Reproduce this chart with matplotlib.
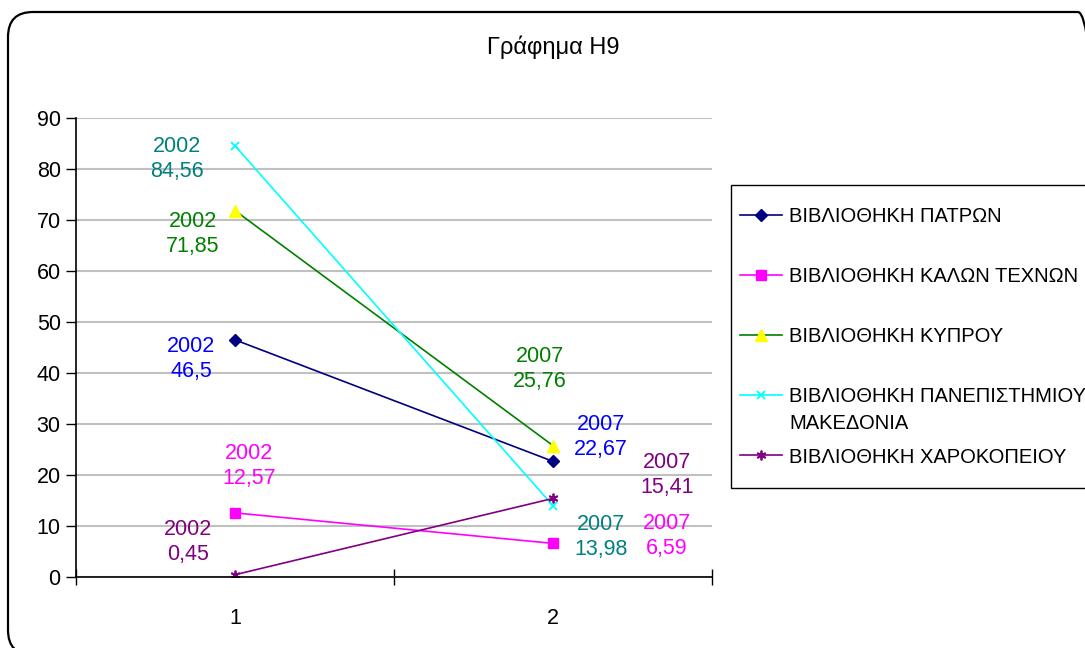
import matplotlib
matplotlib.use("Agg")
import matplotlib.pyplot as plt
from matplotlib.patches import FancyBboxPatch
from matplotlib.transforms import IdentityTransform

plt.rcParams['font.family'] = ['Liberation Sans', 'DejaVu Sans']

# --- datos ---
categorias = [1, 2]
anios = ['2002', '2007']
series = [
    'ΒΙΒΛΙΟΘΗΚΗ ΠΑΤΡΩΝ',
    'ΒΙΒΛΙΟΘΗΚΗ ΚΑΛΩΝ ΤΕΧΝΩΝ',
    'ΒΙΒΛΙΟΘΗΚΗ ΚΥΠΡΟΥ',
    'ΒΙΒΛΙΟΘΗΚΗ ΠΑΝΕΠΙΣΤΗΜΙΟΥ',
    'ΒΙΒΛΙΟΘΗΚΗ ΧΑΡΟΚΟΠΕΙΟΥ',
]
# segunda linea de la etiqueta larga (como en Excel, bajo la primera)
series_cont = ['', '', '', 'ΜΑΚΕΔΟΝΙΑ', '']
patron = [46.5, 22.67]
kalon_texnon = [12.57, 6.59]
kyprou = [71.85, 25.76]
makedonia = [84.56, 13.98]
xarokopeiou = [0.45, 15.41]
valores = [patron, kalon_texnon, kyprou, makedonia, xarokopeiou]

# --- estilo ---
estilos = [
    dict(color='#000080', marker='D', mfc='#000080', mec='#000080', ms=6.5),
    dict(color='#FF00FF', marker='s', mfc='#FF00FF', mec='#FF00FF', ms=6.5),
    dict(color='#008000', marker='^', mfc='#FFFF00', mec='#FFFF00', ms=8),
    dict(color='#00FFFF', marker='x', mfc='#00FFFF', mec='#00FFFF', ms=6, mew=1.3),
    dict(color='#800080', marker=(6, 2, 0), mfc='#800080', mec='#800080', ms=7, mew=1.3),
]
color_etiqueta = ['#0000FF', '#FF00FF', '#008000', '#008080', '#800080']
# desplazamiento de etiquetas en pixeles (2002, 2007)
offsets = [
    [(-44, -19), (48, 24)],
    [(14, 47), (114, 7)],
    [(-42, -23), (-13, 77)],
    [(-58, -13), (48, -31)],
    [(-47, 33), (114, 23)],
]

fig = plt.figure(figsize=(10.85, 6.48), dpi=100)
ax = fig.add_axes([76 / 1085, 1 - 577 / 648, (712 - 76) / 1085, (577 - 118) / 648])

for nombre, vals, st in zip(series, valores, estilos):
    ax.plot(categorias, vals, lw=1.2, label=nombre, **st)

for vals, col, offs in zip(valores, color_etiqueta, offsets):
    for x, v, anio, off in zip(categorias, vals, anios, offs):
        txt = f"{anio}\n{v:g}".replace('.', ',')
        ax.annotate(txt, (x, v), xytext=off, textcoords='offset pixels',
                    ha='center', va='center', color=col, fontsize=15.5,
                    linespacing=1.25, annotation_clip=False)

ax.set_xlim(0.5, 2.5)
ax.set_ylim(0, 90)
ax.set_yticks(range(0, 91, 10))
ax.set_xticks([0.5, 1.5, 2.5])
ax.set_xticklabels([])
ax.set_xticks(categorias, minor=True)
ax.set_xticklabels([str(c) for c in categorias], minor=True)
ax.tick_params(axis='x', which='major', direction='inout', length=12, width=1)
ax.tick_params(axis='x', which='minor', length=0, labelsize=15.5, pad=22)
ax.tick_params(axis='y', direction='out', length=7, width=1, labelsize=15.5, pad=4)
ax.grid(axis='y', color='#c0c0c0', lw=1.5)
ax.set_axisbelow(True)
for s in ['top', 'right']:
    ax.spines[s].set_visible(False)
for s in ['left', 'bottom']:
    ax.spines[s].set_linewidth(1.2)

fig.text(553 / 1085, 1 - 47 / 648, 'Γράφημα Η9', ha='center', va='center', fontsize=17)

leg = fig.legend(loc='upper left', bbox_to_anchor=(731 / 1085, 1 - 185 / 648),
                 frameon=True, fancybox=False, fontsize=14.5, labelspacing=0.79,
                 handlelength=2.1, handleheight=3.0, handletextpad=0.35,
                 borderpad=0.45, borderaxespad=0, framealpha=1.0)
leg.get_frame().set_edgecolor('black')
leg.get_frame().set_linewidth(1.0)

# bajar un poco las muestras para que queden a la altura del texto
for h in leg.legend_handles:
    h.set_ydata([y - 5 for y in h.get_ydata()])

# segunda linea de la entrada larga, justo debajo de su texto
fig.canvas.draw()
for t, extra in zip(leg.get_texts(), series_cont):
    if extra:
        bb = t.get_window_extent()
        fig.text(bb.x0, bb.y0 - 27, extra, transform=IdentityTransform(),
                 ha='left', va='bottom', fontsize=14.5, zorder=6)

marco = FancyBboxPatch((8, -7), 1095, 643, boxstyle='round,pad=0,rounding_size=25',
                       transform=IdentityTransform(), fill=False, ec='black', lw=1.6)
fig.add_artist(marco)

fig.savefig('out.png', dpi=100)
